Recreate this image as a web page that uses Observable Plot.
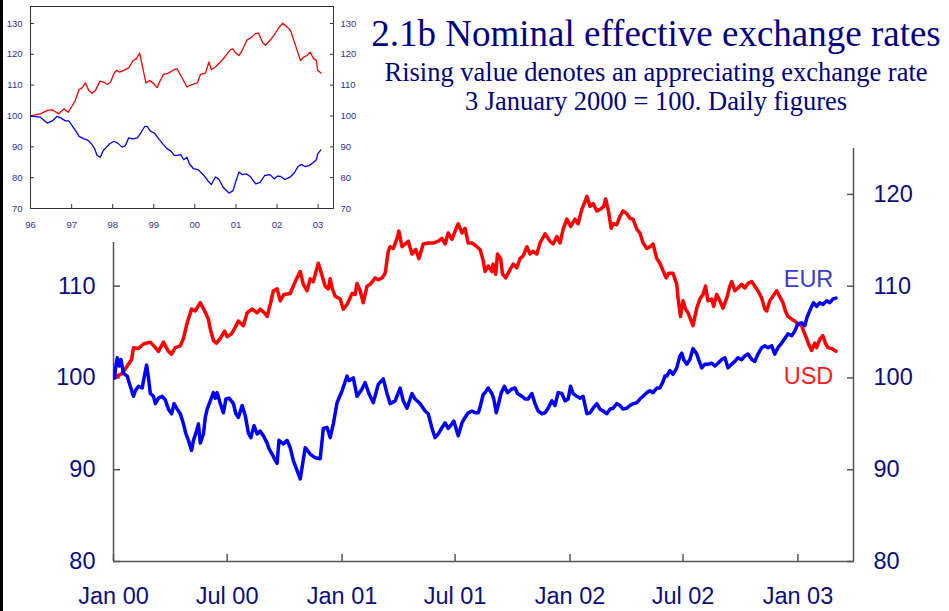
<!DOCTYPE html>
<html>
<head>
<meta charset="utf-8">
<script src="https://cdn.jsdelivr.net/npm/d3@7"></script>
<script src="https://cdn.jsdelivr.net/npm/@observablehq/plot@0.6"></script>
<style>
  html, body { margin: 0; padding: 0; background: #fff; }
  #wrap { position: relative; width: 949px; height: 611px; overflow: hidden; background: #fff; }
  #wrap svg { position: absolute; }
  .ttl { position: absolute; white-space: nowrap; color: #000080; font-family: "Liberation Serif", "Times New Roman", serif; transform: translateX(-50%); line-height: 1; }
  #bar { position: absolute; left: 0; top: 0; width: 3px; height: 611px; background: #000; }
</style>
</head>
<body>
<div id="wrap"></div>
<script>
// ---------- Main chart data (3 January 2000 = 100, daily figures) ----------
const usdSeries = [
  ["2000-01-03",100],["2000-01-07",100.2],["2000-01-15",100.5],["2000-01-23",101.3],["2000-01-30",102],
  ["2000-02-02",103.3],["2000-02-10",103.2],["2000-02-18",103.7],["2000-02-29",103.9],["2000-03-08",103.3],
  ["2000-03-13",102.9],["2000-03-21",103.9],["2000-03-29",102.9],["2000-04-03",102.6],["2000-04-09",103.3],
  ["2000-04-17",103.5],["2000-04-22",104.3],["2000-04-28",106],["2000-05-05",107.5],["2000-05-11",107.3],
  ["2000-05-19",108.2],["2000-05-26",107.3],["2000-06-01",106.4],["2000-06-04",105.3],["2000-06-09",104.1],
  ["2000-06-14",103.8],["2000-06-20",104.3],["2000-06-27",105.1],["2000-07-01",104.5],["2000-07-08",104.8],
  ["2000-07-13",105.4],["2000-07-19",106.2],["2000-07-27",105.7],["2000-08-02",107.1],["2000-08-10",107.5],
  ["2000-08-18",107.1],["2000-08-23",107.5],["2000-08-31",107],["2000-09-03",106.7],["2000-09-08",108],
  ["2000-09-13",109.5],["2000-09-19",109.7],["2000-09-24",108.4],["2000-09-30",109.1],["2000-10-10",109.2],
  ["2000-10-18",110.5],["2000-10-26",111.6],["2000-10-31",110.2],["2000-11-06",109.5],["2000-11-11",110.8],
  ["2000-11-16",110.5],["2000-11-24",112.5],["2000-11-28",111.6],["2000-12-05",110],["2000-12-10",109.7],
  ["2000-12-13",110.8],["2000-12-16",109.8],["2000-12-21",108.9],["2000-12-29",108.6],["2001-01-03",107.5],
  ["2001-01-09",108],["2001-01-17",109.2],["2001-01-22",109.1],["2001-01-25",110.3],["2001-01-30",109.5],
  ["2001-02-04",108.2],["2001-02-10",110],["2001-02-15",110.2],["2001-02-23",110.9],["2001-02-28",110.7],
  ["2001-03-06",110.9],["2001-03-11",111.4],["2001-03-16",113.8],["2001-03-19",114.3],["2001-03-24",114.1],
  ["2001-03-30",115.2],["2001-04-02",116],["2001-04-07",114.3],["2001-04-12",114.6],["2001-04-17",114.9],
  ["2001-04-23",113.5],["2001-04-29",114],["2001-05-04",113],["2001-05-11",114.6],["2001-05-19",114.7],
  ["2001-05-27",114.7],["2001-06-04",114.9],["2001-06-10",115.2],["2001-06-15",114.6],["2001-06-20",115.8],
  ["2001-06-26",115.1],["2001-07-01",116],["2001-07-06",116.8],["2001-07-12",115.8],["2001-07-17",116.3],
  ["2001-07-22",114.7],["2001-07-28",114.7],["2001-08-05",114.3],["2001-08-10",114],["2001-08-15",112.8],
  ["2001-08-18",111.6],["2001-08-23",112.2],["2001-08-29",111.6],["2001-08-31",112.4],["2001-09-04",111.3],
  ["2001-09-07",113.5],["2001-09-12",113],["2001-09-15",111.3],["2001-09-20",110.9],["2001-09-27",111.8],
  ["2001-10-02",112.4],["2001-10-08",112],["2001-10-13",113],["2001-10-18",113.3],["2001-10-24",114.3],
  ["2001-10-29",113.5],["2001-11-03",113.8],["2001-11-09",113.5],["2001-11-14",114.7],["2001-11-22",115.7],
  ["2001-11-30",114.9],["2001-12-05",114.6],["2001-12-11",115.4],["2001-12-16",114.7],["2001-12-21",116.2],
  ["2001-12-27",117.3],["2002-01-02",116.5],["2002-01-09",117.3],["2002-01-14",116.8],["2002-01-20",118.4],
  ["2002-01-25",119.2],["2002-01-28",119.8],["2002-02-02",118.7],["2002-02-07",119],["2002-02-13",118.2],
  ["2002-02-19",118.4],["2002-02-24",118.7],["2002-02-27",119.5],["2002-03-03",118.4],["2002-03-08",116.3],
  ["2002-03-11",116.8],["2002-03-17",116.7],["2002-03-22",117.6],["2002-03-27",118.2],["2002-04-02",117.9],
  ["2002-04-07",117.4],["2002-04-12",117.3],["2002-04-18",116.2],["2002-04-23",115.8],["2002-04-28",114.7],
  ["2002-05-04",114.1],["2002-05-09",114.3],["2002-05-14",114.6],["2002-05-20",113],["2002-05-25",112.5],
  ["2002-05-30",111.7],["2002-06-04",110.9],["2002-06-08",111.4],["2002-06-15",111.4],["2002-06-21",110.2],
  ["2002-06-23",108.7],["2002-06-27",106.7],["2002-07-01",108.4],["2002-07-05",107.5],["2002-07-09",107.1],
  ["2002-07-13",106.4],["2002-07-17",105.7],["2002-07-23",107.6],["2002-07-28",108.6],["2002-08-02",109.1],
  ["2002-08-06",110],["2002-08-10",108.4],["2002-08-16",108.6],["2002-08-19",107.8],["2002-08-24",109.1],
  ["2002-08-29",108.4],["2002-09-03",107.6],["2002-09-09",108.7],["2002-09-14",110],["2002-09-17",110.5],
  ["2002-09-22",109.5],["2002-09-27",109.8],["2002-10-03",110.2],["2002-10-08",109.8],["2002-10-13",110.3],
  ["2002-10-19",110.5],["2002-10-24",110],["2002-10-29",109.5],["2002-11-04",108.7],["2002-11-09",107.5],
  ["2002-11-12",107.3],["2002-11-17",108.4],["2002-11-22",108.9],["2002-11-28",109.5],["2002-12-01",109.1],
  ["2002-12-08",108.2],["2002-12-12",107.3],["2002-12-16",106.7],["2002-12-22",106.4],["2002-12-27",106.2],
  ["2003-01-01",105.9],["2003-01-07",105.7],["2003-01-10",105.1],["2003-01-15",104.3],["2003-01-18",103.7],
  ["2003-01-23",103],["2003-01-28",103.8],["2003-01-31",103.3],["2003-02-05",104.2],["2003-02-10",104.6],
  ["2003-02-14",103.8],["2003-02-18",103.3],["2003-02-24",103.2],["2003-03-03",102.9]
];
const eurSeries = [
  ["2000-01-03",100],["2000-01-04",101],["2000-01-07",102.2],["2000-01-10",101.3],["2000-01-13",102],
  ["2000-01-17",100.5],["2000-01-23",100.2],["2000-01-26",99.5],["2000-02-02",98],["2000-02-05",98.6],
  ["2000-02-10",99.1],["2000-02-16",98.9],["2000-02-18",99.7],["2000-02-23",101.4],["2000-02-26",100],
  ["2000-02-29",98.3],["2000-03-05",98],["2000-03-08",97.2],["2000-03-13",97.8],["2000-03-19",98],
  ["2000-03-24",97.6],["2000-03-29",96.6],["2000-04-03",96.1],["2000-04-07",97.2],["2000-04-12",96.6],
  ["2000-04-17",96.1],["2000-04-22",95],["2000-04-26",93.9],["2000-04-30",93.2],["2000-05-05",92.1],
  ["2000-05-08",93.2],["2000-05-13",94.2],["2000-05-16",95],["2000-05-19",92.9],["2000-05-24",93.9],
  ["2000-05-27",95.7],["2000-05-30",96.6],["2000-06-04",97.5],["2000-06-09",98.4],["2000-06-12",97.8],
  ["2000-06-15",98.4],["2000-06-20",97.2],["2000-06-25",96.2],["2000-06-29",97.7],["2000-07-04",97.8],
  ["2000-07-11",97.2],["2000-07-15",96.1],["2000-07-19",95.7],["2000-07-25",97],["2000-07-30",95.9],
  ["2000-08-04",94],["2000-08-08",93.5],["2000-08-13",94.8],["2000-08-18",93.9],["2000-08-23",94.2],
  ["2000-08-28",93.7],["2000-09-03",92.9],["2000-09-06",92.3],["2000-09-11",91.7],["2000-09-14",91.3],
  ["2000-09-19",90.7],["2000-09-22",93.2],["2000-09-29",92.8],["2000-10-05",93.2],["2000-10-10",92.4],
  ["2000-10-15",91],["2000-10-21",89.9],["2000-10-26",89],["2000-11-03",92.4],["2000-11-11",91.7],
  ["2000-11-19",91.3],["2000-11-27",91.2],["2000-12-02",94.5],["2000-12-08",94.6],["2000-12-13",93.5],
  ["2000-12-18",95],["2000-12-24",97.3],["2001-01-01",98.6],["2001-01-09",100.2],["2001-01-12",99.7],
  ["2001-01-19",100],["2001-01-25",98],["2001-02-02",98.8],["2001-02-07",99.5],["2001-02-13",98.3],
  ["2001-02-20",97.3],["2001-02-28",99.3],["2001-03-08",99.9],["2001-03-14",98.3],["2001-03-19",97.2],
  ["2001-03-27",97.5],["2001-04-04",98.9],["2001-04-09",97.5],["2001-04-15",96.7],["2001-04-23",98.3],
  ["2001-04-28",97.7],["2001-05-06",97.2],["2001-05-14",96.4],["2001-05-19",96.1],["2001-05-25",94.5],
  ["2001-05-30",93.5],["2001-06-04",93.9],["2001-06-10",94.6],["2001-06-15",95.1],["2001-06-20",94.5],
  ["2001-06-26",95],["2001-06-29",95.3],["2001-07-06",93.7],["2001-07-12",95.1],["2001-07-17",95.7],
  ["2001-07-22",96.2],["2001-07-28",96.4],["2001-08-02",96.2],["2001-08-07",96.2],["2001-08-10",96.8],
  ["2001-08-15",98.2],["2001-08-18",98.4],["2001-08-23",98.9],["2001-08-29",98.3],["2001-09-01",97.7],
  ["2001-09-05",96.2],["2001-09-09",97.3],["2001-09-13",98.4],["2001-09-18",99.1],["2001-09-23",98.4],
  ["2001-09-30",98.8],["2001-10-05",98.9],["2001-10-09",98.3],["2001-10-16",98],["2001-10-21",97.7],
  ["2001-10-26",97.7],["2001-11-01",98.3],["2001-11-06",97.2],["2001-11-11",96.4],["2001-11-17",96.1],
  ["2001-11-22",96.2],["2001-11-27",96.7],["2001-12-03",97.5],["2001-12-08",97],["2001-12-13",98.4],
  ["2001-12-19",98.3],["2001-12-24",97.5],["2001-12-29",97.7],["2002-01-02",99.1],["2002-01-06",98.3],
  ["2002-01-12",98],["2002-01-17",97.8],["2002-01-22",98],["2002-01-28",96.1],["2002-02-02",96.2],
  ["2002-02-07",96.7],["2002-02-13",97.2],["2002-02-18",96.6],["2002-02-23",96.4],["2002-03-01",96.1],
  ["2002-03-06",96.6],["2002-03-11",96.7],["2002-03-17",97.2],["2002-03-22",97],["2002-03-27",96.6],
  ["2002-04-02",96.7],["2002-04-07",97],["2002-04-12",97.2],["2002-04-18",97.3],["2002-04-23",97.7],
  ["2002-04-28",98],["2002-05-04",98.4],["2002-05-09",98.6],["2002-05-14",98.4],["2002-05-20",98.9],
  ["2002-05-25",98.9],["2002-05-30",99.6],["2002-06-02",100.2],["2002-06-05",100.2],["2002-06-10",100.8],
  ["2002-06-15",100.4],["2002-06-21",101.1],["2002-06-26",102.4],["2002-06-29",102.7],["2002-07-02",102],
  ["2002-07-07",101.5],["2002-07-12",102],["2002-07-17",103.2],["2002-07-23",102.6],["2002-07-26",102],
  ["2002-07-31",101.1],["2002-08-05",101.5],["2002-08-10",101.5],["2002-08-16",101.6],["2002-08-21",101.3],
  ["2002-08-26",101.6],["2002-09-01",102],["2002-09-06",102.2],["2002-09-11",101.1],["2002-09-17",101.5],
  ["2002-09-22",101.8],["2002-09-27",102.2],["2002-10-03",102],["2002-10-08",102.4],["2002-10-13",102.6],
  ["2002-10-19",102],["2002-10-24",101.8],["2002-10-29",102.6],["2002-11-04",103.3],["2002-11-09",103.5],
  ["2002-11-14",103.3],["2002-11-20",103.5],["2002-11-25",102.6],["2002-11-30",103.3],["2002-12-06",103.8],
  ["2002-12-11",104.3],["2002-12-16",104.8],["2002-12-22",104.6],["2002-12-27",105.1],["2003-01-01",105.9],
  ["2003-01-07",106],["2003-01-12",105.7],["2003-01-16",106.7],["2003-01-23",107.8],["2003-01-26",108.2],
  ["2003-01-31",107.8],["2003-02-05",108.2],["2003-02-10",108],["2003-02-16",108.4],["2003-02-21",108.2],
  ["2003-02-26",108.6],["2003-03-03",108.7]
];
const mainYTicks = [80, 90, 100, 110, 120];
const mainXTicks = ["2000-01-01","2000-07-01","2001-01-01","2001-07-01","2002-01-01","2002-07-01","2003-01-01"];
const mainXDomain = ["2000-01-01","2003-03-31"];
const mainYDomain = [80, 125];
const seriesLabels = ["EUR", "USD"];
const labelDates = ["2003-01-18", "2003-01-18"];
const labelValues = [110.7, 100.2];

// ---------- Inset data (1996 = 100, monthly) ----------
const insetUsd = [
  ["1996-01-01",100],["1996-03-28",100.7],["1996-05-30",101.8],["1996-07-12",102],["1996-09-09",100.7],
  ["1996-10-23",102.3],["1996-12-02",101.2],["1997-02-02",105],["1997-03-07",108.5],["1997-04-05",109.2],
  ["1997-05-04",110.7],["1997-06-02",108.3],["1997-07-02",107.4],["1997-08-01",108.3],["1997-09-09",111.3],
  ["1997-10-12",111],["1997-11-14",110.2],["1997-12-13",111],["1998-01-12",113.7],["1998-02-03",114.8],
  ["1998-03-03",114.2],["1998-04-09",114.8],["1998-05-23",115.6],["1998-07-02",118],["1998-07-31",118.6],
  ["1998-08-29",120.4],["1998-09-27",115.3],["1998-10-23",110.7],["1998-11-24",111.5],["1999-01-01",110.5],
  ["1999-01-30",109.2],["1999-02-28",111.5],["1999-03-29",113.5],["1999-05-12",113.9],["1999-06-28",115],
  ["1999-07-27",115.3],["1999-09-09",112.4],["1999-10-23",109.4],["1999-12-06",110.2],["2000-01-23",110.7],
  ["2000-02-21",113.5],["2000-04-05",113.9],["2000-05-05",117.5],["2000-05-27",115],["2000-07-02",115.9],
  ["2000-08-15",117.5],["2000-09-28",119.3],["2000-11-07",121.3],["2000-12-03",121.8],["2000-12-28",120.4],
  ["2001-01-27",119.6],["2001-02-25",121.3],["2001-04-10",124.7],["2001-05-16",125.4],["2001-06-22",126.7],
  ["2001-07-21",126.9],["2001-08-23",124],["2001-09-21",122.9],["2001-11-04",124.7],["2001-12-18",126.9],
  ["2002-01-16",128.6],["2002-02-21",130.1],["2002-04-02",128.8],["2002-05-01",127.7],["2002-06-14",122.9],
  ["2002-07-28",118],["2002-08-26",119.1],["2002-09-24",119.6],["2002-10-23",120.7],["2002-11-22",118.6],
  ["2002-12-17",118],["2002-12-28",114.8],["2003-01-26",113.9]
];
const insetEur = [
  ["1996-01-01",100],["1996-03-28",99.6],["1996-05-30",97.7],["1996-07-12",98.4],["1996-08-26",99.9],
  ["1996-09-24",99.4],["1996-11-07",98.4],["1996-12-06",98.4],["1997-01-05",96.9],["1997-02-03",95.3],
  ["1997-03-08",93.4],["1997-04-21",92.6],["1997-05-27",92.1],["1997-06-25",91],["1997-07-24",89.4],
  ["1997-08-15",87.2],["1997-09-13",86.6],["1997-10-09",88.8],["1997-11-07",89.9],["1997-12-06",91],
  ["1998-01-12",91.8],["1998-02-14",91.2],["1998-03-26",89.9],["1998-04-24",90.4],["1998-05-23",92.9],
  ["1998-07-02",92.6],["1998-08-08",92.9],["1998-09-13",94.8],["1998-10-12",96.6],["1998-11-03",96.6],
  ["1998-12-02",95.1],["1999-01-08",94.4],["1999-02-14",92.6],["1999-03-26",90.8],["1999-04-28",89.4],
  ["1999-06-03",88.6],["1999-07-02",87.2],["1999-07-31",87.2],["1999-08-29",87.5],["1999-09-24",85.8],
  ["1999-10-23",86.6],["1999-11-14",84.5],["1999-12-20",82.9],["2000-02-03",82.5],["2000-03-22",80.7],
  ["2000-04-24",79.1],["2000-05-27",77.8],["2000-07-02",80.2],["2000-07-31",79.6],["2000-09-09",76.9],
  ["2000-10-31",75],["2000-12-06",75.8],["2000-12-28",78.5],["2001-01-27",81.8],["2001-02-25",81],
  ["2001-04-06",81.2],["2001-05-12",80.2],["2001-06-25",78],["2001-08-04",78.5],["2001-09-13",80.7],
  ["2001-10-31",81],["2001-12-06",79.6],["2002-01-05",80.5],["2002-02-03",80.4],["2002-03-12",79.4],
  ["2002-04-28",80.2],["2002-06-03",81.5],["2002-07-06",83.6],["2002-08-04",84.3],["2002-09-06",83.6],
  ["2002-10-12",83.9],["2002-11-22",85],["2002-12-17",85.8],["2002-12-28",87.7],["2003-01-26",89]
];
const insetYTicks = [70, 80, 90, 100, 110, 120, 130];
const insetXTicks = ["1996-01-01","1997-01-01","1998-01-01","1999-01-01","2000-01-01","2001-01-01","2002-01-01","2003-01-01"];
const insetXDomain = ["1996-01-01","2003-05-18"];
const insetYDomain = [70, 135.5];

// ---------- Texts ----------
const titleText = "2.1b Nominal effective exchange rates";
const subtitleText = "Rising value denotes an appreciating exchange rate";
const noteText = "3 January 2000 = 100. Daily figures";

// ---------- Build ----------
const toRows = arr => arr.map(([d, v]) => ({date: new Date(d), value: v}));
const usd = toRows(usdSeries), eur = toRows(eurSeries);
const iusd = toRows(insetUsd), ieur = toRows(insetEur);
const labels = seriesLabels.map((s, i) => ({name: s, date: new Date(labelDates[i]), value: labelValues[i]}));

const axisCol = "#555";
const tickCol = "#0c0c80";
const sans = "'Liberation Sans', Arial, sans-serif";

const main = Plot.plot({
  width: 949, height: 611,
  marginLeft: 113, marginRight: 96, marginTop: 148, marginBottom: 50,
  x: {type: "utc", domain: mainXDomain.map(d => new Date(d))},
  y: {domain: mainYDomain},
  style: {background: "transparent", fontFamily: sans},
  marks: [
    Plot.ruleX([new Date(mainXDomain[0]), new Date(mainXDomain[1])], {stroke: axisCol, strokeWidth: 1.5}),
    Plot.ruleY([mainYDomain[0]], {stroke: axisCol, strokeWidth: 1.5}),
    Plot.axisY(mainYTicks, {anchor: "left", tickSize: -7, tickPadding: 25, fontSize: 23.5, fill: tickCol, stroke: axisCol, strokeWidth: 1.5, label: null}),
    Plot.axisY(mainYTicks, {anchor: "right", tickSize: -7, tickPadding: 27, fontSize: 23.5, fill: tickCol, stroke: axisCol, strokeWidth: 1.5, label: null}),
    Plot.axisX(mainXTicks.map(d => new Date(d)), {anchor: "bottom", tickSize: -7, tickPadding: 33, fontSize: 23.5, fill: tickCol, stroke: axisCol, strokeWidth: 1.5, tickFormat: d3.utcFormat("%b %y"), label: null}),
    Plot.line(usd, {x: "date", y: "value", stroke: "#ff0000", strokeWidth: 3.5}),
    Plot.line(eur, {x: "date", y: "value", stroke: "#0000ff", strokeWidth: 3.5}),
    Plot.text(labels, {x: "date", y: "value", text: "name", fontSize: 23.5, fill: d => d.name === "EUR" ? "#3a3acc" : "#ff1a1a", textAnchor: "middle"})
  ]
});

const inset = Plot.plot({
  width: 365, height: 242,
  marginLeft: 30, marginRight: 32, marginTop: 6, marginBottom: 34,
  x: {type: "utc", domain: insetXDomain.map(d => new Date(d))},
  y: {domain: insetYDomain},
  style: {background: "#fff", fontFamily: sans},
  marks: [
    Plot.frame({stroke: "#333", strokeWidth: 1}),
    Plot.axisY(insetYTicks, {anchor: "left", tickSize: -4, tickPadding: 12, fontSize: 9.5, fill: "#34348c", stroke: "#333", label: null}),
    Plot.axisY(insetYTicks, {anchor: "right", tickSize: -4, tickPadding: 11, fontSize: 9.5, fill: "#34348c", stroke: "#333", label: null}),
    Plot.axisX(insetXTicks.map(d => new Date(d)), {anchor: "bottom", tickSize: -4, tickPadding: 17, fontSize: 9.5, fill: "#34348c", stroke: "#333", tickFormat: d3.utcFormat("%y"), label: null}),
    Plot.line(iusd, {x: "date", y: "value", stroke: "#ff0000", strokeWidth: 1.3}),
    Plot.line(ieur, {x: "date", y: "value", stroke: "#0000ff", strokeWidth: 1.3})
  ]
});

const wrap = document.getElementById("wrap");
main.style.left = "0px"; main.style.top = "0px";
inset.style.left = "0px"; inset.style.top = "0px";
wrap.appendChild(main);
wrap.appendChild(inset);

function addText(txt, size, top) {
  const d = document.createElement("div");
  d.className = "ttl";
  d.textContent = txt;
  d.style.fontSize = size + "px";
  d.style.left = "656px";
  d.style.top = top + "px";
  wrap.appendChild(d);
}
addText(titleText, 37, 15);
addText(subtitleText, 26.5, 59);
addText(noteText, 26.5, 88);

const bar = document.createElement("div");
bar.id = "bar";
wrap.appendChild(bar);
</script>
</body>
</html>
